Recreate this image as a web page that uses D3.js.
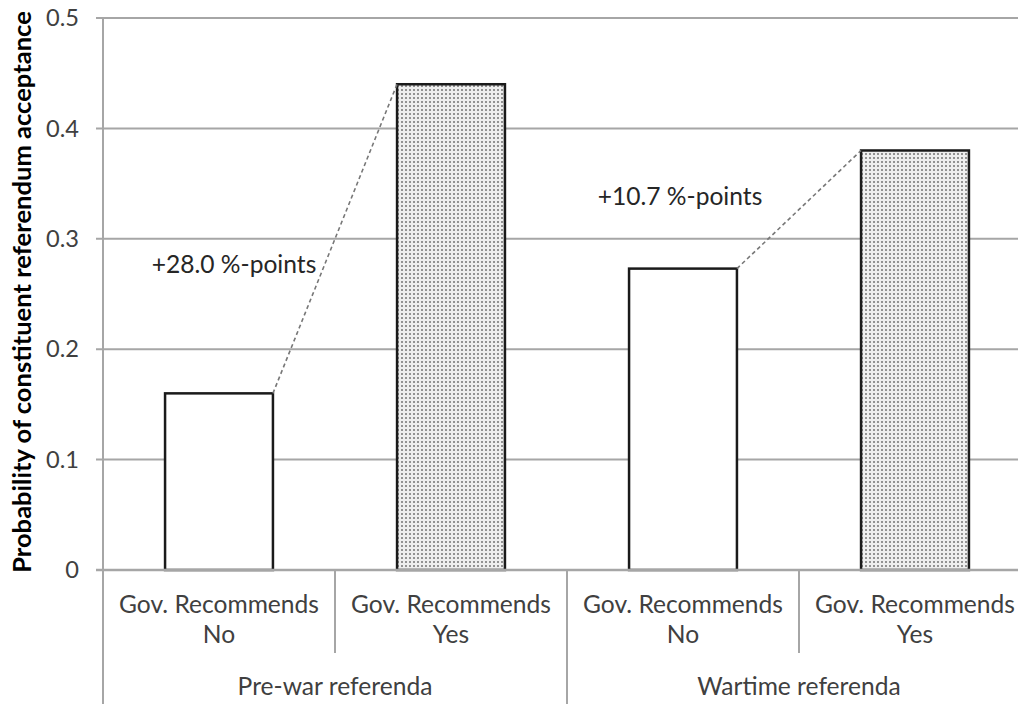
<!DOCTYPE html>
<html><head><meta charset="utf-8">
<script src="https://cdn.jsdelivr.net/npm/d3@7"></script>
<style>body{margin:0;background:#fff;} svg{display:block;font-family:Lato,"Open Sans",sans-serif;}</style>
</head><body>
<svg id="c" width="1018" height="704"></svg>
<script>
const categories = ["Gov. Recommends|No","Gov. Recommends|Yes","Gov. Recommends|No","Gov. Recommends|Yes"];
const groups = ["Pre-war referenda","Wartime referenda"];
const values = [0.16, 0.44, 0.273, 0.38];
const patterned = [false, true, false, true];
const yTicks = [0, 0.1, 0.2, 0.3, 0.4, 0.5];
const annotations = [{from:0,to:1,text:"+28.0 %-points"},{from:2,to:3,text:"+10.7 %-points"}];
const yTitle = "Probability of constituent referendum acceptance";

(function(){
const svg = d3.select("#c");
const L = 103, R = 1031, T = 18, B = 570;
const x = d3.scaleBand().domain(d3.range(categories.length)).range([L, R]).paddingInner(0.535).paddingOuter(0.2675);
const y = d3.scaleLinear().domain([0, 0.5]).range([B, T]);

// find a font size that gives a target width
function fitSize(text, target, weight){
  const t = svg.append("text").attr("font-size",20).attr("font-weight",weight||"normal").text(text);
  const w = t.node().getComputedTextLength();
  t.remove();
  return 20*target/w;
}
const fs = fitSize("Gov. Recommends", 200);
const tickFs = Math.min(fs, fitSize("0.5", 33));
const titleFs = fitSize(yTitle, 562, "bold");

const defs = svg.append("defs");
const pat = defs.append("pattern").attr("id","dots").attr("width",4).attr("height",4).attr("patternUnits","userSpaceOnUse");
pat.append("rect").attr("width",4).attr("height",4).attr("fill","#eeeeee");
pat.append("rect").attr("x",1).attr("y",1).attr("width",2).attr("height",2).attr("fill","#929292");

svg.append("g").selectAll("line").data(yTicks.filter(d=>d>0)).join("line")
  .attr("x1", L-7).attr("x2", 1018).attr("y1", d=>y(d)).attr("y2", d=>y(d))
  .attr("stroke","#a6a6a6").attr("stroke-width",2);

svg.append("g").selectAll("text").data(yTicks).join("text")
  .attr("x", 79).attr("y", d=>y(d)).attr("dy","0.35em").attr("text-anchor","end")
  .attr("font-size",tickFs).attr("fill","#404040").text(d=>d===0?"0":d3.format(".1f")(d));

svg.append("text").attr("transform",`translate(31,${292}) rotate(-90)`)
  .attr("text-anchor","middle").attr("font-size",titleFs).attr("font-weight","bold").attr("fill","#000").text(yTitle);

const band = x.step();
svg.append("g").selectAll("rect").data(values).join("rect")
  .attr("x",(d,i)=>x(i)).attr("width",x.bandwidth())
  .attr("y",d=>y(d)).attr("height",d=>B-y(d))
  .attr("fill",(d,i)=>patterned[i]?"url(#dots)":"#fff")
  .attr("stroke","#1a1a1a").attr("stroke-width",2.5);

svg.append("line").attr("x1",L-7).attr("x2",1018).attr("y1",B).attr("y2",B).attr("stroke","#a6a6a6").attr("stroke-width",2.5);
svg.append("line").attr("x1",L).attr("x2",L).attr("y1",T).attr("y2",704).attr("stroke","#a6a6a6").attr("stroke-width",2);
svg.append("line").attr("x1",L-7).attr("x2",L).attr("y1",T).attr("y2",T).attr("stroke","#a6a6a6").attr("stroke-width",2);

d3.range(1, categories.length).forEach(i=>{
  const xs = L + band*i;
  const full = i % 2 === 0;
  svg.append("line").attr("x1",xs).attr("x2",xs).attr("y1",B).attr("y2",full?704:653)
    .attr("stroke","#a6a6a6").attr("stroke-width",2);
});

categories.forEach((c,i)=>{
  const parts = c.split("|");
  const cx = x(i)+x.bandwidth()/2;
  parts.forEach((p,j)=>{
    svg.append("text").attr("x",cx).attr("y",613+j*30).attr("text-anchor","middle")
      .attr("font-size",fs).attr("fill","#404040").text(p);
  });
});
groups.forEach((g,i)=>{
  svg.append("text").attr("x",L+band*(2*i+1)).attr("y",695).attr("text-anchor","middle")
    .attr("font-size",fs).attr("fill","#404040").text(g);
});

annotations.forEach((a)=>{
  svg.append("line").attr("x1",x(a.from)+x.bandwidth()).attr("y1",y(values[a.from]))
    .attr("x2",x(a.to)).attr("y2",y(values[a.to]))
    .attr("stroke","#777").attr("stroke-width",1.6).attr("stroke-dasharray","4,3");
});
svg.append("text").attr("x",234).attr("y",273).attr("text-anchor","middle").attr("font-size",fs).attr("fill","#262626").text(annotations[0].text);
svg.append("text").attr("x",680).attr("y",205).attr("text-anchor","middle").attr("font-size",fs).attr("fill","#262626").text(annotations[1].text);
})();
</script>
</body></html>
